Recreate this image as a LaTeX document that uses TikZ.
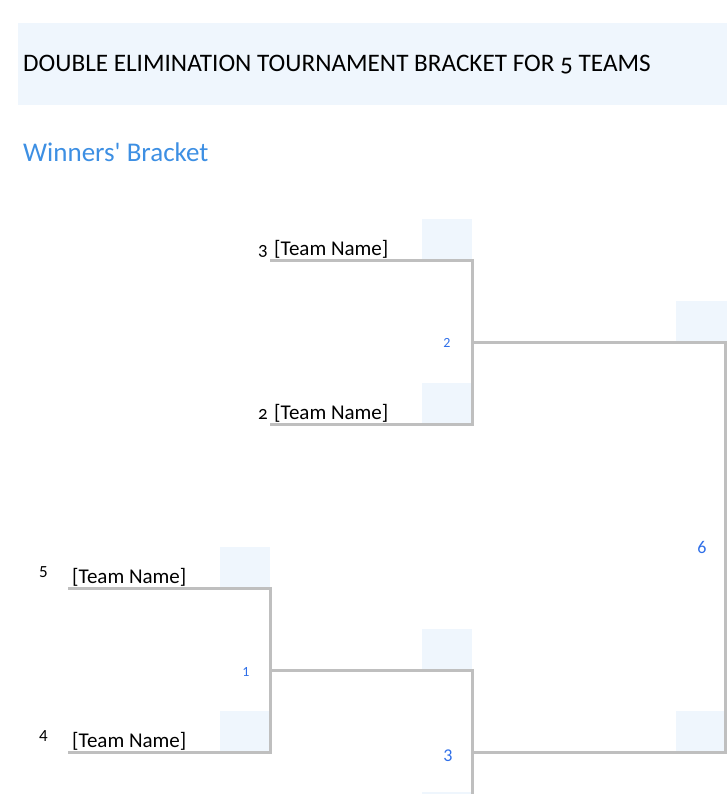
\documentclass[tikz,border=0pt]{standalone}
\usepackage{fontspec}
\setmainfont{Carlito}
\definecolor{band}{HTML}{EFF6FD}
\definecolor{lineg}{HTML}{BFBFBF}
\definecolor{headblue}{HTML}{3D8FE3}
\definecolor{numblue}{HTML}{2F6FE8}
\begin{document}
\begin{tikzpicture}[x=1pt,y=-1pt,
  shade/.style={fill=band,draw=none},
  bline/.style={draw=lineg,line width=3pt},
  team/.style={anchor=base west,inner sep=0pt,font=\fontsize{21}{24}\selectfont},
  seed/.style={anchor=base west,inner sep=0pt,font=\fontsize{17}{20}\selectfont},
  oseed/.style={anchor=base west,inner sep=0pt,font=\fontsize{19}{22}\selectfont\addfontfeatures{Numbers=OldStyle}},
  mnum/.style={anchor=base,inner sep=0pt,text=numblue,font=\fontsize{14}{16}\selectfont},
  mnumbig/.style={anchor=base,inner sep=0pt,text=numblue,font=\fontsize{18}{21}\selectfont}]
\useasboundingbox (0,0) rectangle (727,794);
% title band
\fill[band] (18,23) rectangle (727,105);
\node[anchor=base west,inner sep=0pt,font=\fontsize{25.2}{30}\selectfont] (title) at (23,72) {DOUBLE ELIMINATION TOURNAMENT BRACKET FOR \addfontfeatures{Numbers=OldStyle}5 TEAMS};
\node[anchor=base west,inner sep=0pt,text=headblue,font=\fontsize{27}{32}\selectfont] (wb) at (23,162) {Winners\textquotesingle{} Bracket};
% shaded score cells
\fill[band] (422,219) rectangle (472,260);
\fill[band] (422,383) rectangle (472,424);
\fill[band] (676,301) rectangle (727,342);
\fill[band] (220,547) rectangle (270,588);
\fill[band] (220,711) rectangle (270,752);
\fill[band] (422,629) rectangle (472,670);
\fill[band] (676,711) rectangle (727,752);
\fill[band] (422,792) rectangle (472,794);
% coordinates
\coordinate (a1) at (270,260); \coordinate (a2) at (472,260);
\coordinate (b1) at (270,424); \coordinate (b2) at (472,424);
\coordinate (m2) at (472,342); \coordinate (m2e) at (725.5,342);
\coordinate (c1) at (68,588); \coordinate (c2) at (270,588);
\coordinate (d1) at (68,752); \coordinate (d2) at (270,752);
\coordinate (m1) at (270,670); \coordinate (m1e) at (472,670);
\coordinate (m3b) at (472,794); \coordinate (m3) at (472,752);
\coordinate (m3e) at (725.5,752);
% lines
\draw[bline] (a1) -- (a2) -- (b2) -- (b1);
\draw[bline] (m2) -- (m2e) -- (m3e) -- (m3);
\draw[bline] (c1) -- (c2) -- (d2) -- (d1);
\draw[bline] (m1) -- (m1e) -- (m3b);
% texts
\node[oseed] (s3) at (258,255) {3};
\node[team] (t3) at (274,255) {[Team Name]};
\node[oseed] (s2) at (258,419) {2};
\node[team] (t2) at (274,419) {[Team Name]};
\node[seed] (s5) at (39,577) {5};
\node[team] (t5) at (72,583) {[Team Name]};
\node[seed] (s4) at (39,741) {4};
\node[team] (t4) at (72,747) {[Team Name]};
\node[mnum] (n2) at (447,347) {2};
\node[mnum] (n1) at (246,676) {1};
\node[mnumbig] (n3) at (448,761) {3};
\node[mnumbig] (n6) at (702,553) {6};
\end{tikzpicture}
\end{document}
